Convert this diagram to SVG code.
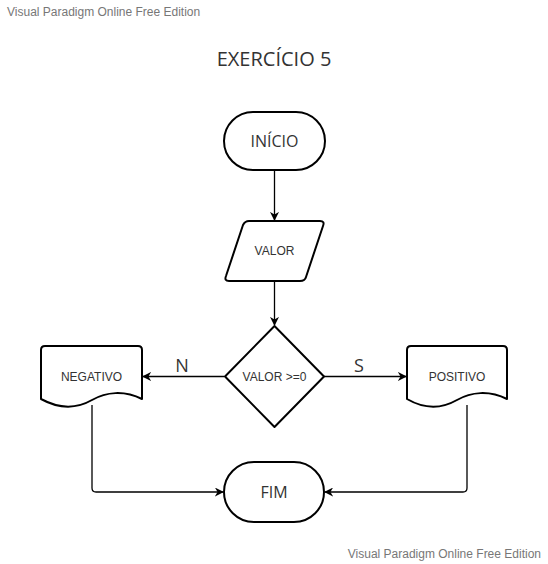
<svg xmlns="http://www.w3.org/2000/svg" width="548" height="564" viewBox="0 0 548 564">
<style>
.shape{fill:#fff;stroke:#000;stroke-width:2;stroke-linejoin:round}
.conn{fill:none;stroke:#000;stroke-width:1.3}
.lbl{font-family:"Liberation Sans",Arial,sans-serif;font-size:12px;fill:#333;text-anchor:middle}
.big{font-family:"Open Sans","Noto Sans",sans-serif;font-size:16px;fill:#333;text-anchor:middle}
.wm{font-family:"Liberation Sans",Arial,sans-serif;font-size:12px;fill:#777}
</style>
<defs>
<marker id="arr" viewBox="0 0 10 10" refX="9" refY="5" markerWidth="9" markerHeight="9" markerUnits="userSpaceOnUse" orient="auto">
<path d="M0,0 L10,5 L0,10 L3,5 z" fill="#000"/>
</marker>
</defs>
<rect width="548" height="564" fill="#fff"/>
<text class="wm" x="7" y="16">Visual Paradigm Online Free Edition</text>
<text class="wm" x="541" y="558" text-anchor="end">Visual Paradigm Online Free Edition</text>
<text x="274" y="66" font-family="'Open Sans','Noto Sans',sans-serif" font-size="20" fill="#333" text-anchor="middle">EXERCÍCIO 5</text>

<g id="connectors">
<path class="conn" d="M274.5,170 V220" marker-end="url(#arr)"/>
<path class="conn" d="M274.5,281 V325" marker-end="url(#arr)"/>
<path class="conn" d="M224,376.5 H143" marker-end="url(#arr)"/>
<path class="conn" d="M324,376.5 H406" marker-end="url(#arr)"/>
<path class="conn" d="M92,405 V488 Q92,492 96,492 H223" marker-end="url(#arr)"/>
<path class="conn" d="M467,405 V488 Q467,492 463,492 H325" marker-end="url(#arr)"/>
<text x="182" y="372" font-family="'Open Sans','Noto Sans',sans-serif" font-size="18" fill="#333" text-anchor="middle">N</text>
<text x="359" y="372" font-family="'Open Sans','Noto Sans',sans-serif" font-size="18" fill="#333" text-anchor="middle">S</text>
</g>

<g id="inicio">
<rect class="shape" x="224" y="112" width="101" height="58" rx="29"/>
<text class="big" x="274.5" y="147">INÍCIO</text>
</g>
<g id="valor">
<path class="shape" d="M249,221 H320 Q325,221 323,226 L306,277 Q305,281 300,281 H229 Q224,281 226,276 L243,225 Q245,221 249,221 Z"/>
<text class="lbl" x="274.5" y="255">VALOR</text>
</g>
<g id="decisao">
<path class="shape" d="M274.5,326 L324,376.5 L274.5,427 L225,376.5 Z"/>
<text class="lbl" x="274.5" y="381">VALOR &gt;=0</text>
</g>
<g id="negativo">
<path class="shape" d="M45,346 H138 Q142,346 142,350 V399 C124,390 106,392 92,400 C78,408 61,410 41,399 V350 Q41,346 45,346 Z"/>
<text class="lbl" x="91.5" y="381">NEGATIVO</text>
</g>
<g id="positivo">
<path class="shape" d="M411,346 H503 Q507,346 507,350 V399 C489,390 471,392 457,400 C443,408 426,410 407,399 V350 Q407,346 411,346 Z"/>
<text class="lbl" x="457" y="381">POSITIVO</text>
</g>
<g id="fim">
<rect class="shape" x="224" y="462" width="100" height="60" rx="30"/>
<text class="big" x="274" y="498">FIM</text>
</g>
</svg>
